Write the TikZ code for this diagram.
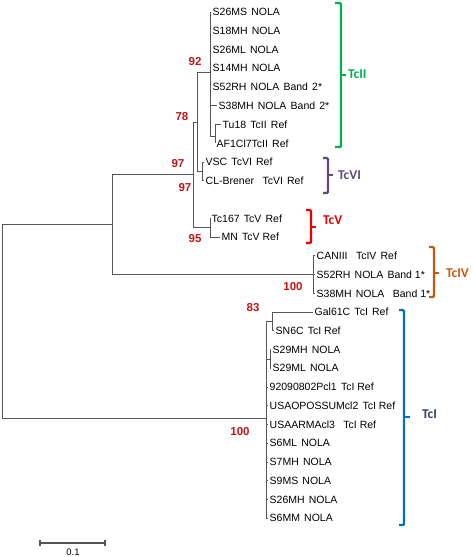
\documentclass[tikz,border=0pt]{standalone}
\usepackage{fontspec}
\setmainfont{Liberation Sans}
\newfontfamily\cladefont{Carlito}
\newcommand\wsp{\hspace{0.4em}}
\definecolor{treegray}{RGB}{85,85,85}
\definecolor{bootred}{RGB}{195,20,20}
\definecolor{cIIgreen}{RGB}{0,176,80}
\definecolor{cVIpurple}{RGB}{96,74,123}
\definecolor{cVred}{RGB}{230,0,0}
\definecolor{cIVbrown}{RGB}{197,90,17}
\definecolor{cIblue}{RGB}{0,112,192}
\definecolor{cInavy}{RGB}{50,68,100}
\tikzset{
  leaf/.style={anchor=west, inner sep=1.5pt, font=\fontsize{10.5}{12}\selectfont},
  boot/.style={text=bootred, inner sep=0pt, font=\bfseries\fontsize{11.5}{12}\selectfont},
  branch/.style={draw=treegray, line width=0.9pt},
  brk/.style={line width=2.4pt, rounded corners=1.2pt},
  cladelbl/.style={anchor=west, inner sep=0pt, font=\cladefont\bfseries\fontsize{13.5}{15}\selectfont},
}
\begin{document}
\begin{tikzpicture}[x=1pt,y=-1pt]
\useasboundingbox (0,0) rectangle (472,557);

% ---------- internal nodes ----------
\coordinate (R)   at (2,321);
\coordinate (A)   at (112,224);
\coordinate (B)   at (193,174);
\coordinate (C)   at (197,122);
\coordinate (D2)  at (210,72);
\coordinate (Dtu) at (215,136);
\coordinate (D6)  at (202,171);
\coordinate (D5)  at (210,227);
\coordinate (D4)  at (313,274);
\coordinate (D1)  at (266,418);
\coordinate (D83) at (272,321);
\coordinate (D29) at (270,359);

% ---------- tips ----------
\node[leaf] (t1)  at (211,12)     {S26MS\wsp NOLA};
\node[leaf] (t2)  at (211,30.75)  {S18MH\wsp NOLA};
\node[leaf] (t3)  at (211,49.5)   {S26ML\wsp NOLA};
\node[leaf] (t4)  at (211,68.25)  {S14MH\wsp NOLA};
\node[leaf] (t5)  at (211,87)     {S52RH\wsp NOLA\wsp Band\wsp 2*};
\node[leaf] (t6)  at (217,105.75) {S38MH\wsp NOLA\wsp Band\wsp 2*};
\node[leaf] (t7)  at (221,124.5)  {Tu18\wsp TcII\wsp Ref};
\node[leaf] (t8)  at (215,143.25) {AF1Cl7TcII\wsp Ref};
\node[leaf] (t9)  at (204,162)    {VSC\wsp TcVI\wsp Ref};
\node[leaf] (t10) at (204,180.75) {CL-Brener\wsp\wsp TcVI\wsp Ref};
\node[leaf] (t11) at (210,218.25) {Tc167\wsp TcV\wsp Ref};
\node[leaf] (t12) at (220,237)    {MN\wsp TcV\ Ref};
\node[leaf] (t13) at (315,255.75) {CANIII\wsp\wsp TcIV\wsp Ref};
\node[leaf] (t14) at (315,274.5)  {S52RH\wsp NOLA\wsp Band\ 1*};
\node[leaf] (t15) at (315,293.25) {S38MH\wsp NOLA\wsp\wsp Band\ 1*};
\node[leaf] (t16) at (313,312)    {Gal61C\wsp TcI\wsp Ref};
\node[leaf] (t17) at (274,330.75) {SN6C\wsp TcI\ Ref};
\node[leaf] (t18) at (271,349.5)  {S29MH\wsp NOLA};
\node[leaf] (t19) at (271,368.25) {S29ML\wsp NOLA};
\node[leaf] (t20) at (268,387)    {92090802Pcl1\wsp TcI\ Ref};
\node[leaf] (t21) at (268,405.75) {USAOPOSSUMcl2\wsp TcI\ Ref};
\node[leaf] (t22) at (268,424.5)  {USAARMAcl3\wsp\wsp TcI\ Ref};
\node[leaf] (t23) at (268,443.25) {S6ML\wsp NOLA};
\node[leaf] (t24) at (268,462)    {S7MH\wsp NOLA};
\node[leaf] (t25) at (268,480.75) {S9MS\wsp NOLA};
\node[leaf] (t26) at (268,499.5)  {S26MH\wsp NOLA};
\node[leaf] (t27) at (268,518.25) {S6MM\wsp NOLA};

% ---------- branches ----------
\draw[branch] (R) |- (A);
\draw[branch] (R) |- (D1);
\draw[branch] (A) |- (B);
\draw[branch] (A) |- (D4);
\draw[branch] (B) |- (C);
\draw[branch] (B) |- (D5);
\draw[branch] (C) |- (D2);
\draw[branch] (C) |- (D6);
\foreach \t in {t1,t2,t3,t4,t5,t6} \draw[branch] (D2) |- (\t.west);
\draw[branch] (D2) |- (Dtu);
\draw[branch] (Dtu) |- (t7.west);
\draw[branch] (Dtu) |- (t8.west);
\draw[branch] (D6) |- (t9.west);
\draw[branch] (D6) |- (t10.west);
\draw[branch] (D5) |- (t11.west);
\draw[branch] (D5) |- (t12.west);
\foreach \t in {t13,t14,t15} \draw[branch] (D4) |- (\t.west);
\draw[branch] (D1) |- (D83);
\draw[branch] (D1) |- (D29);
\draw[branch] (D83) |- (t16.west);
\draw[branch] (D83) |- (t17.west);
\draw[branch] (D29) |- (t18.west);
\draw[branch] (D29) |- (t19.west);
\foreach \t in {t20,t21,t22,t23,t24,t25,t26,t27} \draw[branch] (D1) |- (\t.west);

% ---------- bootstrap values ----------
\node[boot] (b92)  at (195,62)  {92};
\node[boot] (b78)  at (182,117) {78};
\node[boot] (b97a) at (178,164) {97};
\node[boot] (b97b) at (185,188) {97};
\node[boot] (b95)  at (195,239) {95};
\node[boot] (b100a) at (293,287) {100};
\node[boot] (b83)  at (253,308) {83};
\node[boot] (b100b) at (240,432) {100};

% ---------- clade brackets ----------
\draw[brk, cIIgreen] (335,3) -- (341,3) -- (341,147) -- (335,147);
\draw[brk, cIIgreen, rounded corners=0pt] (341,75) -- (346,75);
\node[cladelbl, text=cIIgreen] (lII) at (348,74) {TcII};

\draw[brk, cVIpurple] (323,158) -- (328,158) -- (328,193) -- (323,193);
\draw[brk, cVIpurple, rounded corners=0pt] (328,175) -- (333,175);
\node[cladelbl, text=cVIpurple] (lVI) at (338,175) {TcVI};

\draw[brk, cVred] (306,210) -- (311,210) -- (311,243) -- (306,243);
\draw[brk, cVred, rounded corners=0pt] (311,227) -- (316,227);
\node[cladelbl, text=cVred] (lV) at (323,220) {TcV};

\draw[brk, cIVbrown] (429,247) -- (434,247) -- (434,297) -- (429,297);
\draw[brk, cIVbrown, rounded corners=0pt] (434,273) -- (439,273);
\node[cladelbl, text=cIVbrown] (lIV) at (446,273) {TcIV};

\draw[brk, cIblue] (399,310) -- (404,310) -- (404,525) -- (399,525);
\draw[brk, cIblue, rounded corners=0pt] (404,417) -- (410,417);
\node[cladelbl, text=cInavy] (lI) at (422,414) {TcI};

% ---------- scale bar ----------
\coordinate (s1) at (40,543);
\coordinate (s2) at (105,543);
\draw[branch, line width=1.2pt] (s1) -- (s2);
\draw[branch, line width=1.2pt] ([yshift=-3pt]s1) -- ([yshift=3pt]s1);
\draw[branch, line width=1.2pt] ([yshift=-3pt]s2) -- ([yshift=3pt]s2);
\node[inner sep=0pt, font=\fontsize{9.5}{11}\selectfont] (sl) at (73,552) {0.1};
\end{tikzpicture}
\end{document}
